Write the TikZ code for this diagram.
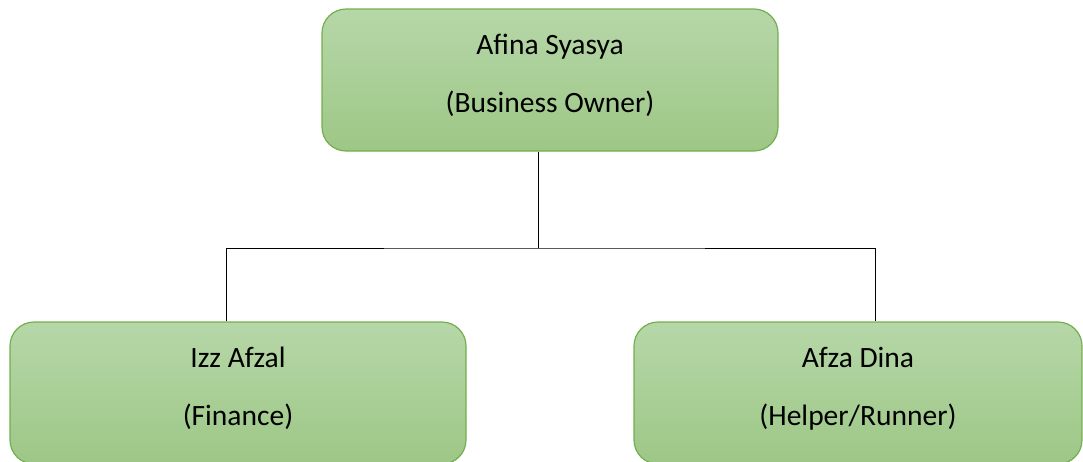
\documentclass[tikz,border=0pt]{standalone}
\usepackage{fontspec}
\setmainfont{Carlito}
\usepackage{xcolor}
\usetikzlibrary{positioning}

\definecolor{boxtop}{HTML}{B6D7A8}
\definecolor{boxbottom}{HTML}{9DC786}
\definecolor{boxline}{HTML}{74AE4E}

\tikzset{
	rolebox/.style = {draw = boxline, line width = 1.2pt, rounded corners = 24pt,
		top color = boxtop, bottom color = boxbottom,
		minimum width = 456pt, minimum height = 142pt, align = center,
		text depth = 14pt, font = \fontsize{29.5}{58}\selectfont},
	link/.style = {draw = black, line width = 0.9pt}
}

\begin{document}
\begin{tikzpicture}[x = 1pt, y = -1pt]
			\useasboundingbox (0,0) rectangle (1083,461);
			\clip (0,0) rectangle (1083,461);

			\node[rolebox] (owner) at (550,80) {Afina Syasya\\(Business Owner)};
			\node[rolebox] (finance) at (238,393) {Izz Afzal\\(Finance)};
			\node[rolebox, minimum width = 448pt] (helper) at (858,393) {Afza Dina\\(Helper/Runner)};

			\coordinate (branch) at (538,248);

			\draw[link] ([xshift = -12]owner.south) -- (branch);
			\draw[link] ([xshift = -12]finance.north) |- (branch) -| ([xshift = 17]helper.north);
		\end{tikzpicture}
\end{document}
